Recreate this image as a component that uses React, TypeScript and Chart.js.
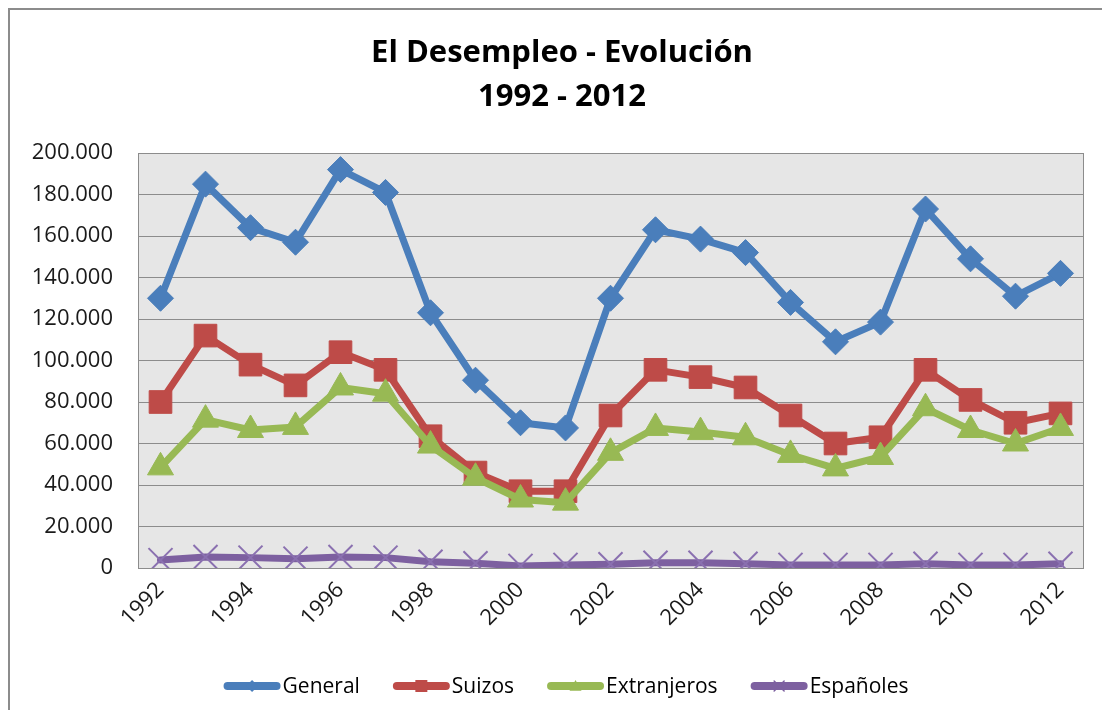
import React, { useEffect, useRef } from 'react';
import { Chart, registerables } from 'chart.js';
Chart.register(...registerables);

const years = ['1992','1993','1994','1995','1996','1997','1998','1999','2000','2001','2002','2003','2004','2005','2006','2007','2008','2009','2010','2011','2012'];
const general = [130000,185000,164000,157000,192000,181000,123000,90500,70000,67500,130000,163000,158500,152000,128000,109000,118500,173000,149000,131000,142000];
const suizos = [80000,112000,98000,88000,104000,95500,63500,46000,37000,37000,73500,95500,92000,87000,73500,60000,63000,95500,81000,70000,74500];
const extranjeros = [48500,71500,66500,68000,87000,84000,59000,43500,33000,31500,55500,67500,65500,63000,54500,48000,53500,77000,66500,60000,67500];
const espanoles = [3800,5300,5000,4500,5300,5000,3000,2300,1000,1500,1800,2500,2500,2000,1500,1500,1500,2000,1500,1500,2000];
const titleLines = ['El Desempleo - Evolución', '1992 - 2012'];

const BLUE = '#4a7ebb';
const RED = '#be4b48';
const GREEN = '#98b954';
const PURPLE = '#7d60a0';
const FONT = '"Open Sans", "Noto Sans", sans-serif';

const fmt = (v: number) => String(v).replace(/\B(?=(\d{3})+(?!\d))/g, '.');

function drawMarker(ctx: CanvasRenderingContext2D, style: string, x: number, y: number, r: number, color: string) {
  ctx.save();
  ctx.fillStyle = color;
  ctx.strokeStyle = color;
  ctx.beginPath();
  if (style === 'rectRot') {
    ctx.moveTo(x - r, y); ctx.lineTo(x, y - r); ctx.lineTo(x + r, y); ctx.lineTo(x, y + r); ctx.closePath(); ctx.fill();
  } else if (style === 'rect') {
    ctx.rect(x - r, y - r, 2 * r, 2 * r); ctx.fill();
  } else if (style === 'triangle') {
    ctx.moveTo(x - r, y + r * 0.8); ctx.lineTo(x, y - r); ctx.lineTo(x + r, y + r * 0.8); ctx.closePath(); ctx.fill();
  } else {
    ctx.lineWidth = 1.5;
    ctx.moveTo(x - r, y - r); ctx.lineTo(x + r, y + r); ctx.moveTo(x + r, y - r); ctx.lineTo(x - r, y + r); ctx.stroke();
  }
  ctx.restore();
}

export default function App() {
  const ref = useRef<HTMLCanvasElement>(null);
  useEffect(() => {
    if (!ref.current) return;
    const decor = {
      id: 'decor',
      beforeDraw(chart: any) {
        const { ctx, chartArea: a } = chart;
        ctx.save();
        ctx.fillStyle = '#ffffff';
        ctx.fillRect(0, 0, chart.width, chart.height);
        ctx.fillStyle = '#e6e6e6';
        ctx.fillRect(a.left, a.top, a.right - a.left, a.bottom - a.top);
        ctx.restore();
      },
      beforeDatasetsDraw(chart: any) {
        const { ctx, chartArea: a } = chart;
        ctx.save();
        ctx.strokeStyle = '#8c8c8c';
        ctx.lineWidth = 1;
        ctx.strokeRect(Math.round(a.left) + 0.5, Math.round(a.top) + 0.5, Math.round(a.right - a.left), Math.round(a.bottom - a.top));
        ctx.restore();
      },
      afterDraw(chart: any) {
        const { ctx } = chart;
        ctx.save();
        ctx.fillStyle = '#000';
        ctx.textAlign = 'center';
        ctx.textBaseline = 'middle';
        ctx.font = `bold 31px ${FONT}`;
        ctx.fillText(titleLines[0], 552, 43);
        ctx.fillText(titleLines[1], 552, 87);

        const items = chart.data.datasets.map((d: any) => ({ label: d.label, color: d.borderColor, style: d.pointStyle }));
        ctx.font = `21px ${FONT}`;
        const lineW = 57, gapT = 2, gapItem = 33;
        const widths = items.map((it: any) => ctx.measureText(it.label).width);
        let total = 0;
        items.forEach((_: any, i: number) => { total += lineW + gapT + widths[i]; });
        total += gapItem * (items.length - 1);
        let x = 556 - total / 2;
        const y = 676;
        items.forEach((it: any, i: number) => {
          ctx.strokeStyle = it.color;
          ctx.lineWidth = 8;
          ctx.lineCap = 'round';
          ctx.beginPath();
          ctx.moveTo(x + 4, y);
          ctx.lineTo(x + lineW - 4, y);
          ctx.stroke();
          drawMarker(ctx, it.style, x + lineW / 2, y, it.style === 'crossRot' ? 5 : 6, it.color);
          ctx.fillStyle = '#000';
          ctx.textAlign = 'left';
          ctx.fillText(it.label, x + lineW + gapT, y + 1);
          x += lineW + gapT + widths[i] + gapItem;
        });
        ctx.restore();
      },
    };

    const mk = (label: string, data: number[], color: string, style: string, r: number, order: number, pbw = 1) => ({
      label, data, borderColor: color, backgroundColor: color,
      pointBackgroundColor: color, pointBorderColor: color,
      pointStyle: style, pointRadius: r, pointBorderWidth: pbw,
      borderWidth: 7, borderJoinStyle: 'round', borderCapStyle: 'round',
      tension: 0, order,
    });

    const chart = new Chart(ref.current, {
      type: 'line',
      data: {
        labels: years,
        datasets: [
          mk('General', general, BLUE, 'rectRot', 13, 4),
          mk('Suizos', suizos, RED, 'rect', 16, 3),
          mk('Extranjeros', extranjeros, GREEN, 'triangle', 15, 2),
          { ...mk('Españoles', espanoles, PURPLE, 'crossRot', 17, 1, 2), pointBorderColor: '#8a70b0' },
        ] as any,
      },
      plugins: [decor],
      options: {
        animation: false,
        responsive: false,
        devicePixelRatio: 1,
        layout: { padding: { top: 143, left: 0, right: 11, bottom: 0 } },
        plugins: { legend: { display: false }, title: { display: false }, tooltip: { enabled: false } },
        scales: {
          x: {
            offset: true,
            grid: { display: false, drawTicks: false },
            border: { display: true, color: '#8c8c8c' },
            afterFit: (s: any) => { s.height = 142; },
            ticks: {
              autoSkip: false, minRotation: 45, maxRotation: 45, padding: 9,
              color: '#1a1a1a', font: { family: FONT, size: 22 },
              callback: (_v: any, i: number) => (i % 2 === 0 ? years[i] : ''),
            },
          },
          y: {
            min: 0, max: 200000,
            grid: { color: '#8c8c8c', drawTicks: false, lineWidth: 1 },
            border: { display: true, color: '#8c8c8c' },
            afterFit: (s: any) => { s.width = 128; },
            ticks: {
              stepSize: 20000, padding: 25,
              color: '#1a1a1a', font: { family: FONT, size: 22 },
              callback: (v: any) => fmt(Number(v)),
            },
          },
        },
      } as any,
    });
    return () => chart.destroy();
  }, []);

  return (
    <div style={{ width: 1092, height: 700, borderLeft: '2px solid #8c8c8c', borderTop: '2px solid #8c8c8c', overflow: 'hidden' }}>
      <canvas ref={ref} width={1092} height={700} style={{ display: 'block', width: 1092, height: 700 }} />
    </div>
  );
}
